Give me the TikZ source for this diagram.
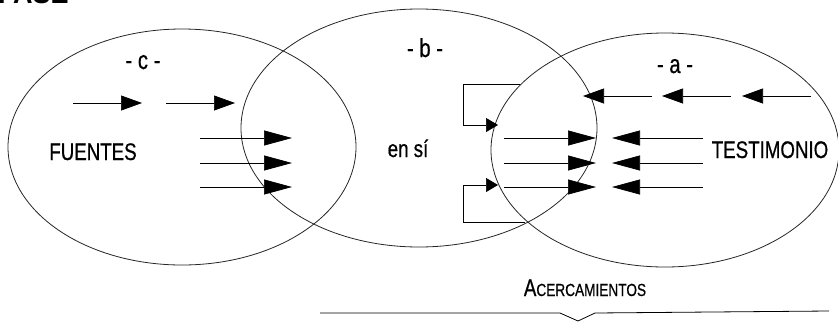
\documentclass[tikz,border=0pt]{standalone}
\usepackage{fontspec}
\newfontfamily\condfont{Liberation Sans}[FakeStretch=0.78, FakeBold=0.6]
\newfontfamily\titlefont{Liberation Sans}[FakeStretch=0.9]
\usetikzlibrary{arrows.meta}

\tikzset{
    ringline/.style={draw=black!85, line width=0.8pt},
    bigarrow/.style={-{Triangle[length=28pt,width=15pt]}, line width=0.7pt},
    smallarrow/.style={-{Triangle[length=21pt,width=15pt]}, line width=0.7pt},
    hookarrow/.style={-{Triangle[length=12pt,width=14pt]}, line width=0.7pt},
    labeltext/.style={anchor=base, inner sep=0pt, font=\condfont\fontsize{24}{28}\selectfont},
    fieldtag/.style={labeltext, font=\condfont\fontsize{26}{30}\selectfont},
}

\begin{document}
\begin{tikzpicture}[x=1pt, y=-1pt]
        \useasboundingbox (0,0) rectangle (838,322);

        % title, cut by the top edge
        \node[anchor=base west, inner sep=0pt, font=\titlefont\bfseries\fontsize{30}{34}\selectfont] (fase) at (-2,3) {FASE};

        % the three fields
        \draw[ringline] (182,147) ellipse [x radius=174, y radius=118];
        \draw[ringline] (419,128) ellipse [x radius=178, y radius=119];
        \draw[ringline] (665,150) ellipse [x radius=174, y radius=117];

        \node[fieldtag] (c_lbl) at (143,69) {- c -};
        \node[fieldtag] (b_lbl) at (425,57) {- b -};
        \node[fieldtag] (a_lbl) at (675,73) {- a -};

        \node[labeltext] (fuentes) at (93,160) {FUENTES};
        \node[labeltext] (ensi) at (408,157) {en sí};
        \node[labeltext] (testimonio) at (770,158) {TESTIMONIO};

        % arrows
        \foreach \x in {73,166}
            \draw[smallarrow] (\x,103) -- (\x+69,103);
        \foreach \x in {583,662,742}
            \draw[smallarrow] (\x+69,96) -- (\x,96);
        \foreach \y in {138,163,187} {
            \draw[bigarrow] (200,\y) -- (292,\y);
            \draw[bigarrow] (504,\y) -- (596,\y);
            \draw[bigarrow] (703,\y) -- (612,\y);
        }

        \draw[hookarrow] (520,84) -- (463,84) -- (463,125) -- (498,125);
        \draw[hookarrow] (525,222) -- (463,222) -- (463,185) -- (498,185);

        % bottom brace
        \node[anchor=base, inner sep=0pt, font=\condfont] (acerc) at (585,296)
            {{\fontsize{24}{28}\selectfont A}{\fontsize{17.5}{20}\selectfont CERCAMIENTOS}};
        \draw[line width=0.8pt] (320,313) -- (560,313) -- (578,321) -- (595,313) -- (829,311);
    \end{tikzpicture}
\end{document}
